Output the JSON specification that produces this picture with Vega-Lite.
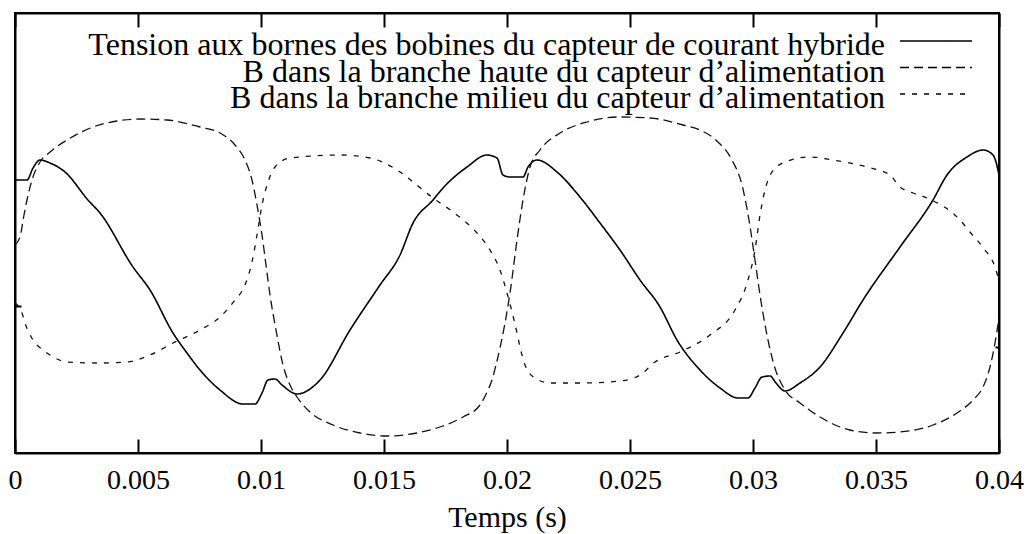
{
  "$schema": "https://vega.github.io/schema/vega-lite/v6.json",
  "width": 984,
  "height": 440,
  "autosize": {"type": "none"},
  "padding": {"left": 15, "top": 13, "right": 30, "bottom": 81},
  "background": "white",
  "config": {
    "view": {"stroke": "black", "strokeWidth": 2},
    "font": "Liberation Serif",
    "axis": {
      "domainColor": "black", "domainWidth": 2, "tickColor": "black", "tickWidth": 2,
      "grid": false, "labelColor": "black", "titleColor": "black",
      "labelFont": "Liberation Serif", "titleFont": "Liberation Serif", "titleFontWeight": "normal"
    }
  },
  "data": {
    "values": [
      {"t":0,"v":273,"s":"a"},{"t":0.000488,"v":273,"s":"a"},{"t":0.000732,"v":285,"s":"a"},{"t":0.001016,"v":293,"s":"a"},{"t":0.001423,"v":290,"s":"a"},{"t":0.002033,"v":281,"s":"a"},{"t":0.002967,"v":253,"s":"a"},{"t":0.003455,"v":240,"s":"a"},{"t":0.004797,"v":186,"s":"a"},{"t":0.005488,"v":163,"s":"a"},{"t":0.006423,"v":120,"s":"a"},{"t":0.006992,"v":100,"s":"a"},{"t":0.00752,"v":83,"s":"a"},{"t":0.008333,"v":63,"s":"a"},{"t":0.009268,"v":49,"s":"a"},{"t":0.009756,"v":49,"s":"a"},{"t":0.010041,"v":60,"s":"a"},{"t":0.010285,"v":73,"s":"a"},{"t":0.010569,"v":74,"s":"a"},{"t":0.010854,"v":68,"s":"a"},{"t":0.011463,"v":59,"s":"a"},{"t":0.012398,"v":73,"s":"a"},{"t":0.013618,"v":123,"s":"a"},{"t":0.014837,"v":168,"s":"a"},{"t":0.01565,"v":198,"s":"a"},{"t":0.016179,"v":230,"s":"a"},{"t":0.016992,"v":253,"s":"a"},{"t":0.017398,"v":265,"s":"a"},{"t":0.018374,"v":286,"s":"a"},{"t":0.019187,"v":298,"s":"a"},{"t":0.019593,"v":295,"s":"a"},{"t":0.019837,"v":278,"s":"a"},{"t":0.020122,"v":276,"s":"a"},{"t":0.02065,"v":276,"s":"a"},{"t":0.020854,"v":286,"s":"a"},{"t":0.02122,"v":293,"s":"a"},{"t":0.022033,"v":281,"s":"a"},{"t":0.022967,"v":256,"s":"a"},{"t":0.02378,"v":230,"s":"a"},{"t":0.024593,"v":203,"s":"a"},{"t":0.025407,"v":173,"s":"a"},{"t":0.02622,"v":146,"s":"a"},{"t":0.026911,"v":113,"s":"a"},{"t":0.027846,"v":83,"s":"a"},{"t":0.028659,"v":65,"s":"a"},{"t":0.02939,"v":55,"s":"a"},{"t":0.029797,"v":55,"s":"a"},{"t":0.030081,"v":65,"s":"a"},{"t":0.030366,"v":76,"s":"a"},{"t":0.030691,"v":77,"s":"a"},{"t":0.030935,"v":70,"s":"a"},{"t":0.031301,"v":62,"s":"a"},{"t":0.031911,"v":70,"s":"a"},{"t":0.032724,"v":86,"s":"a"},{"t":0.033659,"v":120,"s":"a"},{"t":0.034472,"v":153,"s":"a"},{"t":0.035976,"v":206,"s":"a"},{"t":0.037317,"v":253,"s":"a"},{"t":0.037886,"v":278,"s":"a"},{"t":0.038699,"v":296,"s":"a"},{"t":0.03935,"v":303,"s":"a"},{"t":0.039756,"v":298,"s":"a"},{"t":0.039878,"v":291,"s":"a"},{"t":0.04,"v":278,"s":"a"},
      {"t":0,"v":208,"s":"b"},{"t":0.000203,"v":216,"s":"b"},{"t":0.000366,"v":238,"s":"b"},{"t":0.000488,"v":253,"s":"b"},{"t":0.000691,"v":273,"s":"b"},{"t":0.001016,"v":291,"s":"b"},{"t":0.001423,"v":301,"s":"b"},{"t":0.002114,"v":313,"s":"b"},{"t":0.003171,"v":326,"s":"b"},{"t":0.004146,"v":332,"s":"b"},{"t":0.005081,"v":334,"s":"b"},{"t":0.006179,"v":333,"s":"b"},{"t":0.00752,"v":326,"s":"b"},{"t":0.008333,"v":320,"s":"b"},{"t":0.008943,"v":308,"s":"b"},{"t":0.00935,"v":293,"s":"b"},{"t":0.009634,"v":273,"s":"b"},{"t":0.009837,"v":248,"s":"b"},{"t":0.010041,"v":218,"s":"b"},{"t":0.010203,"v":188,"s":"b"},{"t":0.010366,"v":158,"s":"b"},{"t":0.01061,"v":123,"s":"b"},{"t":0.010894,"v":88,"s":"b"},{"t":0.011179,"v":68,"s":"b"},{"t":0.011463,"v":56,"s":"b"},{"t":0.011992,"v":41,"s":"b"},{"t":0.012927,"v":28,"s":"b"},{"t":0.014024,"v":20,"s":"b"},{"t":0.015122,"v":17,"s":"b"},{"t":0.016341,"v":20,"s":"b"},{"t":0.017276,"v":26,"s":"b"},{"t":0.018211,"v":36,"s":"b"},{"t":0.018902,"v":48,"s":"b"},{"t":0.019228,"v":63,"s":"b"},{"t":0.01939,"v":73,"s":"b"},{"t":0.019553,"v":88,"s":"b"},{"t":0.019715,"v":105,"s":"b"},{"t":0.020122,"v":160,"s":"b"},{"t":0.020407,"v":213,"s":"b"},{"t":0.02065,"v":253,"s":"b"},{"t":0.020935,"v":286,"s":"b"},{"t":0.021341,"v":303,"s":"b"},{"t":0.022154,"v":320,"s":"b"},{"t":0.023252,"v":331,"s":"b"},{"t":0.024472,"v":336,"s":"b"},{"t":0.025813,"v":335,"s":"b"},{"t":0.027154,"v":328,"s":"b"},{"t":0.027846,"v":323,"s":"b"},{"t":0.028577,"v":311,"s":"b"},{"t":0.029146,"v":293,"s":"b"},{"t":0.029553,"v":268,"s":"b"},{"t":0.029837,"v":233,"s":"b"},{"t":0.030081,"v":193,"s":"b"},{"t":0.030285,"v":158,"s":"b"},{"t":0.030528,"v":123,"s":"b"},{"t":0.030854,"v":88,"s":"b"},{"t":0.031301,"v":63,"s":"b"},{"t":0.031911,"v":50,"s":"b"},{"t":0.032724,"v":36,"s":"b"},{"t":0.033943,"v":23,"s":"b"},{"t":0.035,"v":20,"s":"b"},{"t":0.035976,"v":21,"s":"b"},{"t":0.037317,"v":28,"s":"b"},{"t":0.038293,"v":40,"s":"b"},{"t":0.038943,"v":53,"s":"b"},{"t":0.03935,"v":66,"s":"b"},{"t":0.039634,"v":86,"s":"b"},{"t":0.039837,"v":110,"s":"b"},{"t":0.04,"v":135,"s":"b"},
      {"t":0,"v":150,"s":"c"},{"t":0.000285,"v":140,"s":"c"},{"t":0.000407,"v":130,"s":"c"},{"t":0.000732,"v":113,"s":"c"},{"t":0.001138,"v":103,"s":"c"},{"t":0.001423,"v":98,"s":"c"},{"t":0.002114,"v":91,"s":"c"},{"t":0.003455,"v":90,"s":"c"},{"t":0.004553,"v":91,"s":"c"},{"t":0.005488,"v":98,"s":"c"},{"t":0.006423,"v":110,"s":"c"},{"t":0.00752,"v":123,"s":"c"},{"t":0.008333,"v":136,"s":"c"},{"t":0.008943,"v":153,"s":"c"},{"t":0.00935,"v":168,"s":"c"},{"t":0.009634,"v":191,"s":"c"},{"t":0.009837,"v":218,"s":"c"},{"t":0.010041,"v":248,"s":"c"},{"t":0.010285,"v":271,"s":"c"},{"t":0.010569,"v":286,"s":"c"},{"t":0.011179,"v":295,"s":"c"},{"t":0.013211,"v":298,"s":"c"},{"t":0.014431,"v":295,"s":"c"},{"t":0.01565,"v":281,"s":"c"},{"t":0.016179,"v":271,"s":"c"},{"t":0.016992,"v":255,"s":"c"},{"t":0.017805,"v":241,"s":"c"},{"t":0.01878,"v":220,"s":"c"},{"t":0.019309,"v":203,"s":"c"},{"t":0.019715,"v":183,"s":"c"},{"t":0.02,"v":160,"s":"c"},{"t":0.020407,"v":120,"s":"c"},{"t":0.020528,"v":106,"s":"c"},{"t":0.020732,"v":88,"s":"c"},{"t":0.021138,"v":75,"s":"c"},{"t":0.021748,"v":70,"s":"c"},{"t":0.022967,"v":70,"s":"c"},{"t":0.024593,"v":72,"s":"c"},{"t":0.025407,"v":78,"s":"c"},{"t":0.026016,"v":91,"s":"c"},{"t":0.027033,"v":101,"s":"c"},{"t":0.028252,"v":118,"s":"c"},{"t":0.029268,"v":143,"s":"c"},{"t":0.029797,"v":173,"s":"c"},{"t":0.030081,"v":203,"s":"c"},{"t":0.030285,"v":238,"s":"c"},{"t":0.030488,"v":263,"s":"c"},{"t":0.030772,"v":281,"s":"c"},{"t":0.031301,"v":291,"s":"c"},{"t":0.032317,"v":296,"s":"c"},{"t":0.033252,"v":293,"s":"c"},{"t":0.034634,"v":286,"s":"c"},{"t":0.035569,"v":278,"s":"c"},{"t":0.035976,"v":266,"s":"c"},{"t":0.036504,"v":260,"s":"c"},{"t":0.037073,"v":255,"s":"c"},{"t":0.038415,"v":233,"s":"c"},{"t":0.038821,"v":221,"s":"c"},{"t":0.039431,"v":203,"s":"c"},{"t":0.039756,"v":191,"s":"c"},{"t":0.04,"v":173,"s":"c"}
    ]
  },
  "layer": [
    {
      "transform": [{"filter": "datum.s == 'a'"}],
      "mark": {"type": "line", "color": "black", "strokeWidth": 1.6, "interpolate": "monotone"},
      "encoding": {
        "x": {"field": "t", "type": "quantitative", "scale": {"domain": [0, 0.04], "nice": false, "zero": false},
          "axis": {"orient": "bottom", "values": [0, 0.005, 0.01, 0.015, 0.02, 0.025, 0.03, 0.035, 0.04], "format": "~g",
            "tickSize": -14, "labelPadding": 27, "labelFontSize": 28, "labelFlush": false, "labelOverlap": false,
            "title": "Temps (s)", "titleFontSize": 30, "titlePadding": 8}},
        "y": {"field": "v", "type": "quantitative", "scale": {"domain": [0, 440], "nice": false},
          "axis": {"orient": "left", "values": [147], "tickSize": -6, "labels": false, "title": null}},
        "strokeDash": {"field": "s", "type": "nominal", "legend": null,
          "scale": {"domain": ["a", "b", "c"], "range": [[1, 0], [9, 5], [5, 7]]}}
      }
    },
    {
      "transform": [{"filter": "datum.s != 'a'"}],
      "mark": {"type": "line", "color": "#111111", "strokeWidth": 1.3, "interpolate": "monotone"},
      "encoding": {
        "x": {"field": "t", "type": "quantitative", "scale": {"domain": [0, 0.04], "nice": false, "zero": false},
          "axis": {"orient": "top", "values": [0, 0.005, 0.01, 0.015, 0.02, 0.025, 0.03, 0.035, 0.04],
            "tickSize": -14, "labels": false, "title": null}},
        "y": {"field": "v", "type": "quantitative", "scale": {"domain": [0, 440], "nice": false},
          "axis": {"orient": "right", "values": [106], "tickSize": -4, "labels": false, "title": null}},
        "strokeDash": {"field": "s", "type": "nominal", "legend": null,
          "scale": {"domain": ["a", "b", "c"], "range": [[1, 0], [9, 5], [5, 7]]}}
      }
    },
    {
      "data": {"values": [
        {"s": "a", "label": "Tension aux bornes des bobines du capteur de courant hybride"},
        {"s": "b", "label": "B dans la branche haute du capteur d’alimentation"},
        {"s": "c", "label": "B dans la branche milieu du capteur d’alimentation"}
      ]},
      "mark": {"type": "text", "align": "right", "baseline": "alphabetic", "font": "Liberation Serif", "fontSize": 32, "color": "black"},
      "encoding": {
        "text": {"field": "label"},
        "x": {"datum": 0.035366, "type": "quantitative", "axis": null},
        "y": {"field": "s", "type": "ordinal", "axis": null,
          "scale": {"type": "point", "domain": ["a", "b", "c"], "range": [42, 95], "padding": 0}}
      }
    },
    {
      "data": {"values": [
        {"s": "a", "label": "Tension aux bornes des bobines du capteur de courant hybride"},
        {"s": "b", "label": "B dans la branche haute du capteur d’alimentation"},
        {"s": "c", "label": "B dans la branche milieu du capteur d’alimentation"}
      ]},
      "mark": {"type": "rule", "color": "black", "strokeWidth": 1.3},
      "encoding": {
        "x": {"datum": 0.035976, "type": "quantitative", "axis": null},
        "x2": {"datum": 0.038902},
        "y": {"field": "s", "type": "ordinal", "axis": null,
          "scale": {"type": "point", "domain": ["a", "b", "c"], "range": [28, 81], "padding": 0}},
        "strokeDash": {"field": "s", "type": "nominal", "legend": null,
          "scale": {"domain": ["a", "b", "c"], "range": [[1, 0], [9, 5], [5, 7]]}}
      }
    }
  ],
  "resolve": {"axis": {"x": "independent", "y": "independent"}, "scale": {"y": "independent"}}
}
